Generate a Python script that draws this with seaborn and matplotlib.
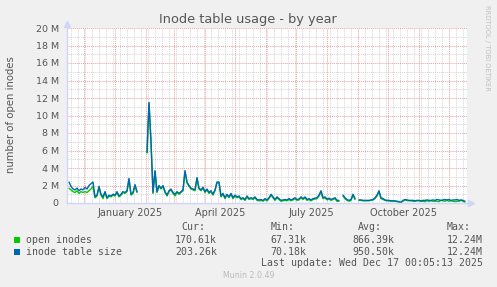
import numpy as np
import pandas as pd
import matplotlib
matplotlib.use("Agg")
import matplotlib.pyplot as plt
import matplotlib.dates as mdates
import matplotlib.ticker as mticker
from matplotlib.patches import Rectangle
import seaborn as sns

sns.set_theme(style="white")
plt.rcParams['font.family'] = ['DejaVu Sans']

nan = float('nan')

# ---- data (millions), one value every 2 days starting 2024-11-16 ----
start_date = "2024-11-16"
step_days = 2
table_size_M = [
    2.4, 1.9, 1.6, 1.5, 1.7, 1.4, 1.6, 1.5, 1.8, 1.6,
    2.0, 2.2, 2.4, 0.7, 0.9, 1.9, 1.0, 0.7, 1.3, 0.6,
    0.9, 0.8, 1.0, 0.9, 1.3, 0.8, 1.0, 1.3, 1.2, 1.4,
    2.8, 1.0, 1.2, 2.1, 1.3, nan, nan, nan, nan, 5.8,
    11.5, 7.0, 1.2, 3.7, 1.3, 2.0, 1.7, 2.0, 1.3, 0.9,
    1.4, 1.6, 1.2, 1.0, 1.3, 1.1, 1.3, 1.5, 3.7, 2.4,
    2.0, 1.7, 1.6, 1.5, 2.9, 1.7, 1.5, 1.8, 1.3, 1.6,
    1.2, 1.4, 1.0, 1.5, 2.4, 2.4, 0.8, 1.1, 0.6, 1.0,
    0.7, 1.1, 0.6, 0.9, 0.7, 0.8, 0.5, 0.6, 0.4, 0.8,
    0.5, 0.6, 0.5, 0.7, 0.4, 0.35, 0.4, 0.3, 0.5, 0.35,
    0.6, 1.0, 0.7, 0.4, 0.7, 0.5, 0.3, 0.35, 0.4, 0.35,
    0.5, 0.35, 0.45, 0.6, 0.4, 0.45, 0.7, 0.5, 0.7, 0.4,
    0.5, 0.35, 0.5, 0.55, 0.6, 0.9, 1.4, 0.6, 0.7, 0.45,
    0.55, 0.4, 0.5, 0.6, 0.3, 0.3, nan, 0.9, 0.6, 0.4,
    0.3, 0.4, 1.0, 0.5, nan, 0.35, 0.35, 0.3, 0.3, 0.3,
    0.3, 0.35, 0.4, 0.6, 0.9, 1.4, 0.6, 0.5, 0.35, 0.3,
    0.3, 0.25, 0.25, 0.25, 0.2, 0.15, 0.1, 0.3, 0.4, 0.35,
    0.3, 0.3, 0.3, 0.25, 0.3, 0.3, 0.25, 0.3, 0.3, 0.35,
    0.3, 0.3, 0.35, 0.3, 0.4, 0.35, 0.3, 0.35, 0.4, 0.35,
    0.4, 0.3, 0.35, 0.35, 0.4, 0.3, 0.35, 0.3, 0.2,
]
open_inodes_M = [
    1.7, 1.5, 1.3, 1.2, 1.4, 1.1, 1.3, 1.2, 1.3, 1.2,
    1.4, 1.6, 1.9, 0.6, 0.8, 1.8, 0.9, 0.5, 1.2, 0.5,
    0.8, 0.7, 0.9, 0.8, 1.2, 0.7, 0.9, 1.2, 1.1, 1.3,
    2.7, 0.9, 1.1, 2.0, 1.2, nan, nan, nan, nan, 5.7,
    11.4, 6.9, 1.1, 3.6, 1.2, 1.9, 1.6, 1.9, 1.2, 0.8,
    1.3, 1.5, 1.1, 0.8, 1.2, 1.0, 1.2, 1.4, 3.6, 2.3,
    1.9, 1.6, 1.5, 1.4, 2.8, 1.6, 1.4, 1.7, 1.2, 1.5,
    1.1, 1.3, 0.9, 1.4, 2.3, 2.3, 0.7, 1.0, 0.5, 0.9,
    0.6, 1.0, 0.5, 0.8, 0.6, 0.7, 0.4, 0.5, 0.3, 0.7,
    0.4, 0.5, 0.4, 0.6, 0.3, 0.25, 0.3, 0.2, 0.4, 0.25,
    0.5, 0.9, 0.6, 0.3, 0.6, 0.4, 0.2, 0.25, 0.3, 0.25,
    0.4, 0.25, 0.35, 0.5, 0.3, 0.35, 0.6, 0.4, 0.6, 0.3,
    0.4, 0.25, 0.4, 0.45, 0.5, 0.8, 1.3, 0.5, 0.6, 0.35,
    0.45, 0.3, 0.4, 0.5, 0.2, 0.2, nan, 0.8, 0.5, 0.3,
    0.2, 0.3, 0.9, 0.4, nan, 0.3, 0.3, 0.25, 0.25, 0.25,
    0.25, 0.3, 0.35, 0.5, 0.8, 1.3, 0.5, 0.4, 0.3, 0.25,
    0.25, 0.2, 0.2, 0.2, 0.15, 0.1, 0.05, 0.2, 0.35, 0.3,
    0.25, 0.25, 0.2, 0.2, 0.25, 0.25, 0.2, 0.2, 0.15, 0.25,
    0.2, 0.25, 0.2, 0.2, 0.2, 0.15, 0.3, 0.25, 0.2, 0.3,
    0.2, 0.25, 0.2, 0.15, 0.2, 0.2, 0.3, 0.2, 0.1,
]
series_names = ["open inodes", "inode table size"]
series_colors = ["#00CC00", "#0066B3"]
month_labels = ["January 2025", "April 2025", "July 2025", "October 2025"]
month_label_dates = ["2025-01-16", "2025-04-16", "2025-07-16", "2025-10-16"]
y_ticks_M = [0, 2, 4, 6, 8, 10, 12, 14, 16, 18, 20]
stats_cur = ["170.61k", "203.26k"]
stats_min = ["67.31k", "70.18k"]
stats_avg = ["866.39k", "950.50k"]
stats_max = ["12.24M", "12.24M"]

dates = pd.date_range(start_date, periods=len(table_size_M), freq=f"{step_days}D")
df = pd.DataFrame({"date": dates, "open inodes": open_inodes_M,
                   "inode table size": table_size_M})
df["seg"] = df["inode table size"].isna().cumsum()

W, H = 497, 287
fig = plt.figure(figsize=(W / 100, H / 100), dpi=100, facecolor="#F0F0F0")
px = lambda x: x / W
py = lambda y: 1 - y / H
ax = fig.add_axes([px(67), py(203), 400 / W, 175 / H])
ax.set_facecolor("white")

for name, col in zip(series_names, series_colors):
    sub = df[["date", "seg", name]].dropna().rename(columns={name: "v"})
    sub["v"] = sub["v"] * 1e6
    sns.lineplot(data=sub, x="date", y="v", units="seg", estimator=None,
                 color=col, lw=1.0, ax=ax, legend=False)

ax.set_xlim(pd.Timestamp("2024-11-14"), pd.Timestamp("2025-12-19"))
ax.set_ylim(0, 20e6)
ax.set_xlabel("")
ax.set_ylabel("")

ax.xaxis.set_major_locator(mdates.MonthLocator())
ax.xaxis.set_minor_locator(mdates.WeekdayLocator(byweekday=mdates.MO))
ax.xaxis.set_major_formatter(mticker.NullFormatter())
ax.set_yticks([v * 1e6 for v in y_ticks_M])
ax.set_yticklabels([f"{v} M" if v else "0" for v in y_ticks_M])
ax.yaxis.set_minor_locator(mticker.MultipleLocator(1e6))

dot = (0, (1, 1))
ax.grid(which="minor", color="#D4D4D4", ls=dot, lw=0.7)
ax.grid(which="major", color="#EAA0A0", ls=dot, lw=0.7)
ax.set_axisbelow(True)
ax.tick_params(axis="y", which="both", length=0, pad=6, labelsize=6.8, labelcolor="#555555")
ax.tick_params(axis="x", which="major", length=2, color="#EAA0A0", direction="out")
ax.tick_params(axis="x", which="minor", length=0)

for s in ["top", "right"]:
    ax.spines[s].set_visible(False)
for s in ["left", "bottom"]:
    ax.spines[s].set_color("#CFD6F8")
    ax.spines[s].set_linewidth(1.0)

# axis arrows
ax.plot([0, 0], [1, 1.02], transform=ax.transAxes, color="#CFD6F8", lw=1, clip_on=False)
ax.plot([1, 1.005], [0, 0], transform=ax.transAxes, color="#CFD6F8", lw=1, clip_on=False)
ax.plot([0], [1.025], transform=ax.transAxes, marker="^", ms=4, color="#CFD6F8", clip_on=False)
ax.plot([1.009], [0], transform=ax.transAxes, marker=">", ms=4, color="#CFD6F8", clip_on=False)

for lab, d in zip(month_labels, month_label_dates):
    ax.text(pd.Timestamp(d) + pd.Timedelta(hours=12), -0.055, lab, transform=ax.get_xaxis_transform(),
            ha="center", va="center", fontsize=7.0, color="#555555")

fig.text(px(248), py(19), "Inode table usage - by year", ha="center", va="center",
         fontsize=9.3, color="#555555")
fig.text(px(11), py(115), "number of open inodes", rotation=90, ha="center", va="center",
         fontsize=7.3, color="#555555")
fig.text(px(487), py(5), "RRDTOOL / TOBI OETIKER", rotation=-90, ha="center", va="top",
         fontsize=4.9, color="#C0C0C0")

mono = dict(family="DejaVu Sans Mono", fontsize=7.1, color="#555555", va="center")
fig.text(px(181), py(227), "Cur:", **mono)
fig.text(px(271), py(227), "Min:", **mono)
fig.text(px(358), py(227), "Avg:", **mono)
fig.text(px(447), py(227), "Max:", **mono)
for i, (name, col) in enumerate(zip(series_names, series_colors)):
    yy = 240 + 12 * i
    fig.add_artist(Rectangle((px(14), py(yy + 3)), 6 / W, 6 / H, transform=fig.transFigure,
                             facecolor=col, edgecolor="none"))
    fig.text(px(26), py(yy), name, **mono)
    fig.text(px(217), py(yy), stats_cur[i], ha="right", **mono)
    fig.text(px(306), py(yy), stats_min[i], ha="right", **mono)
    fig.text(px(394), py(yy), stats_avg[i], ha="right", **mono)
    fig.text(px(483), py(yy), stats_max[i], ha="right", **mono)
fig.text(px(483), py(263), "Last update: Wed Dec 17 00:05:13 2025", ha="right", **mono)
fig.text(px(249), py(276), "Munin 2.0.49", ha="center", va="center", fontsize=5.7, color="#BBBBBB")

fig.savefig("out.png", dpi=100, facecolor=fig.get_facecolor())
